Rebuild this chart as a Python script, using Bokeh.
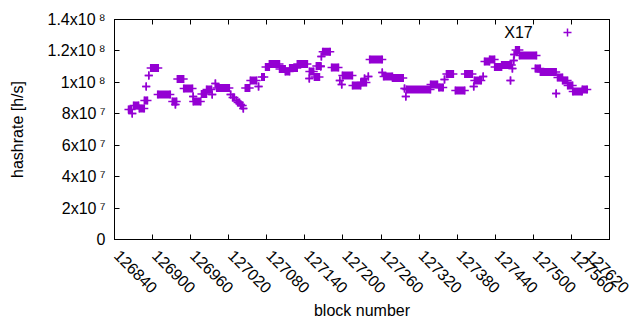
import numpy as np
from bokeh.plotting import figure
from bokeh.models import (Range1d, FixedTicker, LinearAxis, Label, Legend,
                          LegendItem, ColumnDataSource)
from bokeh.embed import file_html
from bokeh.resources import INLINE

# ---- data (runs of consecutive blocks sharing one hashrate value) ----
run_start = [126862, 126868, 126870, 126879, 126887, 126890, 126894, 126897, 126908, 126931,
             126936, 126939, 126949, 126964, 126964, 126977, 126985, 126994, 126999, 127001,
             127023, 127026, 127032, 127034, 127039, 127040, 127043, 127046, 127054, 127067,
             127072, 127078, 127084, 127100, 127109, 127116, 127128, 127147, 127147, 127155,
             127158, 127166, 127168, 127165, 127182, 127195, 127198, 127199, 127215, 127228,
             127234, 127240, 127242, 127262, 127264, 127278, 127297, 127299, 127300, 127338,
             127351, 127360, 127363, 127377, 127392, 127406, 127407, 127421, 127423, 127431,
             127439, 127450, 127464, 127467, 127469, 127470, 127472, 127478, 127503, 127511,
             127536, 127538, 127546, 127554, 127562, 127577]
run_end = [126867, 126868, 126878, 126887, 126892, 126890, 126894, 126909, 126928, 126938,
           126936, 126949, 126963, 126964, 126976, 126985, 126993, 126994, 126999, 127021,
           127023, 127029, 127032, 127037, 127039, 127042, 127043, 127053, 127064, 127067,
           127076, 127084, 127100, 127109, 127116, 127128, 127144, 127147, 127154, 127163,
           127165, 127166, 127180, 127165, 127193, 127195, 127198, 127215, 127228, 127237,
           127234, 127240, 127262, 127262, 127278, 127295, 127297, 127299, 127338, 127349,
           127358, 127360, 127374, 127392, 127404, 127406, 127418, 127421, 127431, 127439,
           127450, 127466, 127464, 127467, 127469, 127470, 127478, 127505, 127511, 127536,
           127536, 127546, 127554, 127562, 127577, 127585]
hashrate_e7 = [8.28, 8.02, 8.53, 8.34, 8.85, 9.74, 10.44, 10.92, 9.23, 8.78,
               8.59, 10.22, 9.61, 9.10, 8.78, 9.26, 9.55, 9.23, 9.93, 9.64,
               9.23, 9.04, 8.85, 8.72, 8.59, 8.53, 8.34, 9.64, 10.12, 9.74,
               10.34, 10.98, 11.17, 10.85, 10.69, 10.92, 11.17, 10.25, 10.69, 10.34,
               11.04, 11.65, 11.94, 11.01, 10.95, 10.12, 9.87, 10.44, 9.80, 9.99,
               10.25, 10.38, 11.46, 10.63, 10.38, 10.28, 9.61, 9.10, 9.55, 9.87,
               9.68, 10.18, 10.53, 9.48, 10.53, 9.74, 10.12, 10.38, 11.33, 11.46,
               10.98, 11.11, 10.12, 10.88, 11.39, 11.78, 12.06, 11.71, 10.88, 10.66,
               9.29, 10.31, 10.12, 9.80, 9.42, 9.55]
series_name = "X17"

x_ticks = [126840, 126900, 126960, 127020, 127080, 127140, 127200, 127260,
           127320, 127380, 127440, 127500, 127560, 127620]
x_tick_labels = ["\u2009" + str(t) for t in x_ticks]
y_ticks = [0, 20000000, 40000000, 60000000, 80000000, 100000000, 120000000, 140000000]
y_tick_labels = ["0", "2x10\u2009\u2077", "4x10\u2009\u2077", "6x10\u2009\u2077",
                 "8x10\u2009\u2077", "1x10\u2009\u2078", "1.2x10\u2009\u2078",
                 "1.4x10\u2009\u2078"]

COLOR = "#9400d3"
FONT = "Liberation Sans"
FS = "16px"

hashrate = [v * 1e7 for v in hashrate_e7]
mid = [(a + b) / 2 for a, b in zip(run_start, run_end)]
wid = [b - a for a, b in zip(run_start, run_end)]
rect_src = ColumnDataSource(dict(x=mid, y=hashrate, w=wid))
pt_src = ColumnDataSource(dict(x=run_start + run_end, y=hashrate + hashrate))

p = figure(width=632, height=322, output_backend="svg", toolbar_location=None,
           x_range=Range1d(126840, 127620), y_range=Range1d(0, 1.4e8),
           min_border_left=114, min_border_right=23, min_border_top=19,
           min_border_bottom=83)
p.background_fill_color = "white"
p.border_fill_color = "white"
p.outline_line_color = "black"
p.outline_line_width = 1
p.xgrid.visible = False
p.ygrid.visible = False

p.rect(x="x", y="y", width="w", height=8, height_units="screen", source=rect_src,
       fill_color=COLOR, line_color=None)
cross = p.scatter(x="x", y="y", source=pt_src, marker="cross", size=8,
                  line_color=COLOR, line_width=1.5)

for ax in (p.xaxis[0], p.yaxis[0]):
    ax.major_tick_in = 5
    ax.major_tick_out = 0
    ax.minor_tick_line_color = None
    ax.axis_line_color = "black"
    ax.major_label_text_font = FONT
    ax.major_label_text_font_size = FS
    ax.major_label_text_color = "black"
    ax.axis_label_text_font = FONT
    ax.axis_label_text_font_size = FS
    ax.axis_label_text_font_style = "normal"
    ax.axis_label_text_color = "black"

p.xaxis.ticker = FixedTicker(ticks=x_ticks)
p.xaxis.major_label_overrides = dict(zip(x_ticks, x_tick_labels))
p.xaxis.major_label_orientation = -np.pi / 4
p.xaxis.major_label_standoff = 11
p.xaxis.axis_label_standoff = -4
p.xaxis.axis_label = "block number"
p.yaxis.ticker = FixedTicker(ticks=y_ticks)
p.yaxis.major_label_overrides = dict(zip(y_ticks, y_tick_labels))
p.yaxis.major_label_standoff = 9
p.yaxis.axis_label_standoff = 19
p.yaxis.axis_label = "hashrate [h/s]"

right = LinearAxis(ticker=FixedTicker(ticks=y_ticks),
                   major_label_overrides={t: "" for t in y_ticks},
                   major_tick_in=5, major_tick_out=0, minor_tick_line_color=None,
                   axis_line_color="black")
above = LinearAxis(ticker=FixedTicker(ticks=x_ticks),
                   major_label_overrides={t: "" for t in x_ticks},
                   major_tick_in=5, major_tick_out=0, minor_tick_line_color=None,
                   axis_line_color="black")
p.add_layout(right, "right")
p.add_layout(above, "above")

legend = Legend(items=[LegendItem(label=" ", renderers=[cross])], location=(443, 197),
                padding=0, margin=0, spacing=0, glyph_width=20, glyph_height=20,
                label_standoff=0, border_line_color=None, background_fill_alpha=0,
                label_text_font_size="1px")
p.add_layout(legend, "center")
p.add_layout(Label(x=127499, y=1.318e8, text=series_name, text_align="right",
                   text_baseline="middle", text_font=FONT, text_font_size=FS,
                   text_color="black"))

open("out.html", "w").write(file_html(p, INLINE))
